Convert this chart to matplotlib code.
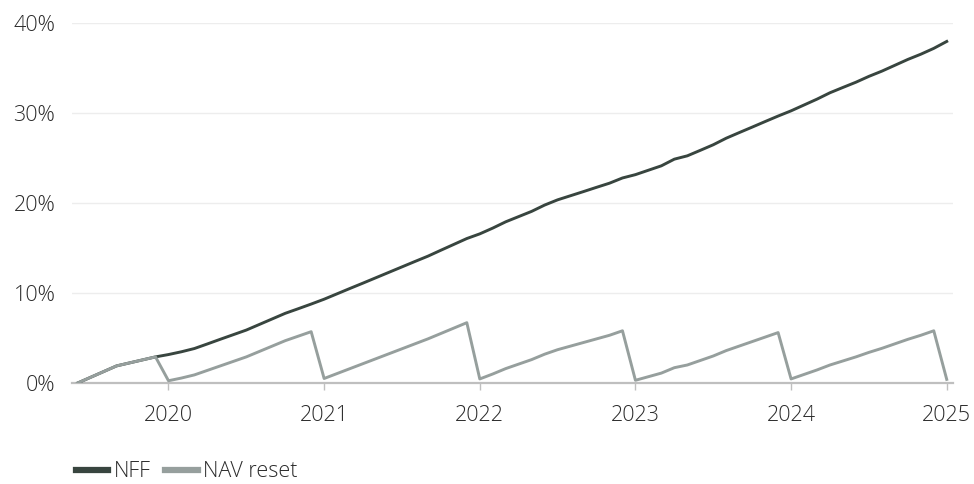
import matplotlib
matplotlib.use("Agg")
import matplotlib.pyplot as plt
from matplotlib.ticker import FuncFormatter

plt.rcParams['font.family'] = ['Open Sans', 'DejaVu Sans']
plt.rcParams['font.weight'] = 'light'

# ------------------------------------------------------------
# DATOS (mensuales, año decimal)
# ------------------------------------------------------------
fechas = ([2019 + 5/12, 2019 + 8/12, 2019 + 11/12] +
          [a + m/12 for a in range(2020, 2025) for m in range(12)] +
          [2025.0])

nff = [0.0, 1.9, 2.9,
       3.16, 3.47, 3.83, 4.34, 4.86, 5.37, 5.88, 6.50, 7.12, 7.74, 8.25, 8.77,
       9.31, 9.91, 10.51, 11.10, 11.70, 12.30, 12.90, 13.50, 14.09, 14.75, 15.40, 16.05,
       16.57, 17.21, 17.91, 18.49, 19.07, 19.77, 20.35, 20.81, 21.27, 21.74, 22.20, 22.78,
       23.15, 23.64, 24.13, 24.87, 25.24, 25.85, 26.47, 27.20, 27.82, 28.43, 29.05, 29.66,
       30.24, 30.89, 31.54, 32.25, 32.84, 33.42, 34.07, 34.65, 35.30, 35.95, 36.53, 37.18,
       37.95]

nav_reset = [0.0, 1.9, 2.9,
             0.25, 0.55, 0.9, 1.4, 1.9, 2.4, 2.9, 3.5, 4.1, 4.7, 5.2, 5.7,
             0.5, 1.05, 1.6, 2.15, 2.7, 3.25, 3.8, 4.35, 4.9, 5.5, 6.1, 6.7,
             0.45, 1.0, 1.6, 2.1, 2.6, 3.2, 3.7, 4.1, 4.5, 4.9, 5.3, 5.8,
             0.3, 0.7, 1.1, 1.7, 2.0, 2.5, 3.0, 3.6, 4.1, 4.6, 5.1, 5.6,
             0.45, 0.95, 1.45, 2.0, 2.45, 2.9, 3.4, 3.85, 4.35, 4.85, 5.3, 5.8,
             0.4]

anios = [2020, 2021, 2022, 2023, 2024, 2025]
niveles_y = [0, 10, 20, 30, 40]

color_nff = "#38453f"
color_nav = "#969f9d"
color_texto = "#2b2b2b"

# ------------------------------------------------------------
# GRAFICO
# ------------------------------------------------------------
fig = plt.figure(figsize=(9.74, 4.84), dpi=100)
ax = fig.add_axes([0.0739, 0.2087, 0.9045, 0.7438])

ax.plot(fechas, nff, color=color_nff, lw=2.1, label="NFF", zorder=3)
ax.plot(fechas, nav_reset, color=color_nav, lw=2.1, label="NAV reset", zorder=4)

ax.set_xlim(2019.38, 2025.04)
ax.set_ylim(0, 40)
ax.set_xticks(anios)
ax.set_xticklabels([str(a) for a in anios])
ax.set_yticks(niveles_y)
ax.yaxis.set_major_formatter(FuncFormatter(lambda v, p: f"{v:.0f}%"))

for s in ["top", "right", "left"]:
    ax.spines[s].set_visible(False)
ax.spines["bottom"].set_color("#bfbfbf")
ax.spines["bottom"].set_linewidth(1.6)
ax.spines["bottom"].set_zorder(2)

ax.grid(axis="y", color="#ededed", lw=1.0, zorder=0)
ax.tick_params(axis="y", length=0, pad=12, labelsize=15.5, labelcolor=color_texto)
ax.tick_params(axis="x", length=5, width=1.0, color="#bfbfbf", pad=11,
               labelsize=15.5, labelcolor=color_texto)
ax.set_axisbelow(True)

leg = fig.legend(loc="lower left", bbox_to_anchor=(0.058, -0.036), ncol=2,
                 frameon=False, fontsize=15.5, handlelength=1.5,
                 handletextpad=0.25, columnspacing=0.7, labelcolor=color_texto)
for linea in leg.get_lines():
    linea.set_linewidth(4.5)

fig.savefig("out.png", dpi=100)
plt.close(fig)
